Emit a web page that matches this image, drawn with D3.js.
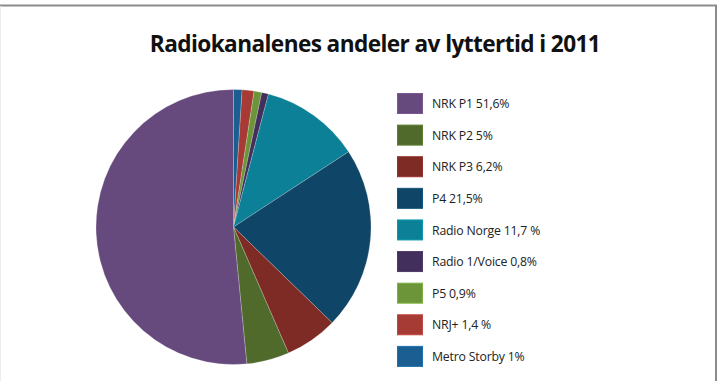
<!DOCTYPE html>
<html>
<head>
<meta charset="utf-8">
<script src="https://cdn.jsdelivr.net/npm/d3@7"></script>
<style>
  html, body { margin: 0; padding: 0; background: #fff; }
  svg { display: block; }
</style>
</head>
<body>
<svg id="chart" width="722" height="381"></svg>
<script>
// Data, in legend order
var channels = ["NRK P1", "NRK P2", "NRK P3", "P4", "Radio Norge", "Radio 1/Voice", "P5", "NRJ+", "Metro Storby"];
var shares = [51.6, 5, 6.2, 21.5, 11.7, 0.8, 0.9, 1.4, 1];
var legendLabels = ["NRK P1 51,6%", "NRK P2 5%", "NRK P3 6,2%", "P4 21,5%", "Radio Norge 11,7 %",
                    "Radio 1/Voice 0,8%", "P5 0,9%", "NRJ+ 1,4 %", "Metro Storby 1%"];
var colors = ["#674a7d", "#4f6a2b", "#7e2b25", "#0f4668", "#0b8096", "#432f5c", "#6b9538", "#a63a34", "#1a5e92"];

var svg = d3.select("#chart"),
    cx = 233.5,
    cy = 227,
    radius = 137.5;

// Frame
svg.append("line").attr("x1", 0).attr("x2", 717).attr("y1", 5.5).attr("y2", 5.5)
    .attr("stroke", "#8c8c8c").attr("stroke-width", 2);
svg.append("line").attr("x1", 716).attr("x2", 716).attr("y1", 5).attr("y2", 381)
    .attr("stroke", "#8c8c8c").attr("stroke-width", 2);
svg.append("line").attr("x1", 0.5).attr("x2", 0.5).attr("y1", 6).attr("y2", 381)
    .attr("stroke", "#ececec").attr("stroke-width", 1);

// Title
var title = svg.append("text")
    .attr("x", 375)
    .attr("y", 52)
    .attr("text-anchor", "middle")
    .attr("font-family", "'Open Sans', sans-serif")
    .attr("font-weight", "bold")
    .attr("font-size", 22)
    .attr("letter-spacing", -0.6)
    .attr("fill", "#111")
    .text("Radiokanalenes andeler av lyttertid i 2011");
var tw = title.node().getComputedTextLength();
if (tw > 0) {
    title.attr("font-size", 22 * 450 / tw);
}

// Pie: drawn clockwise from 12 o'clock in reverse legend order
var order = d3.range(channels.length).reverse();
var pie = d3.pie()
    .sort(null)
    .value(function (i) { return shares[i]; });
var arc = d3.arc().innerRadius(0).outerRadius(radius);

svg.append("g")
    .attr("transform", "translate(" + cx + "," + cy + ")")
    .selectAll("path")
    .data(pie(order))
    .enter().append("path")
    .attr("d", arc)
    .attr("fill", function (d) { return colors[d.data]; })
    .attr("stroke", "#ffffff")
    .attr("stroke-opacity", 0.35)
    .attr("stroke-width", 0.6);

// Legend
var legendY = d3.scaleBand()
    .domain(channels)
    .range([88, 372.5])
    .paddingInner(0);

var items = svg.append("g").selectAll("g")
    .data(channels)
    .enter().append("g")
    .attr("transform", function (d) { return "translate(397," + legendY(d) + ")"; });

items.append("rect")
    .attr("x", 0.5)
    .attr("y", 5.5)
    .attr("width", 25)
    .attr("height", 20)
    .attr("fill", function (d, i) { return colors[i]; })
    .attr("stroke", function (d, i) { return d3.color(colors[i]).brighter(0.5); })
    .attr("stroke-width", 1);

items.append("text")
    .attr("x", 35)
    .attr("y", 15.8)
    .attr("dy", "0.35em")
    .attr("font-family", "'Open Sans', sans-serif")
    .attr("font-size", 12.3)
    .attr("letter-spacing", -0.2)
    .attr("fill", "#222")
    .text(function (d, i) { return legendLabels[i]; });
</script>
</body>
</html>
